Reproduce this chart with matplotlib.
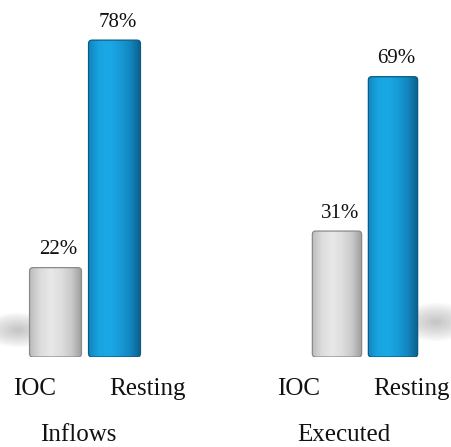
import matplotlib
matplotlib.use("Agg")
import matplotlib.pyplot as plt
import numpy as np
from matplotlib.colors import LinearSegmentedColormap
from matplotlib.patches import FancyBboxPatch, Ellipse

# ---- data ----
groups = ["Inflows", "Executed"]
categories = ["IOC", "Resting"]
inflows = [22, 78]
executed = [31, 69]
values = [inflows, executed]
labels_fmt = "{}%"

plt.rcParams['font.family'] = ['Liberation Serif', 'DejaVu Serif']

W, H = 452, 447
fig = plt.figure(figsize=(W / 100, H / 100), dpi=100)

# soft floor shadows (decoration)
bg = fig.add_axes([0, 0, 1, 1], zorder=0)
bg.set_xlim(0, W)
bg.set_ylim(H, 0)
bg.axis("off")
for (cx, cy, w, h) in [(18, 330, 70, 34), (436, 322, 70, 38)]:
    for k in range(10):
        s = 1 - k / 10
        bg.add_patch(Ellipse((cx, cy), w * s, h * s, facecolor="#808080",
                             edgecolor="none", alpha=0.05))

grey_cmap = LinearSegmentedColormap.from_list(
    "g", ["#bcbcbc", "#dcdcdc", "#e8e8e8", "#dedede", "#cacaca", "#9c9c9c"])
blue_cmap = LinearSegmentedColormap.from_list(
    "b", ["#1186c0", "#19a4e1", "#1aa9e6", "#179bd6", "#1385be", "#0b5f8b"])
cmaps = [grey_cmap, blue_cmap]
edges = ["#8a8a8a", "#0a5a84"]

# axes placement in pixels: (left, width)
axes_px = [(26, 118), (309, 112)]
# label offsets (pixels, from bar centre / group centre)
tick_dx = [[-21, 33], [-38, 18]]
group_dx = [-7, -21]
base_px = 357
ylim_top = 80
height_px = 325
pt = 0.72  # points per pixel at 100 dpi

for gi, (grp, vals) in enumerate(zip(groups, values)):
    left, width = axes_px[gi]
    ax = fig.add_axes([left / W, (H - base_px) / H, width / W, height_px / H], zorder=2)
    ax.set_xlim(-0.5, 1.5)
    ax.set_ylim(0, ylim_top)
    x = np.arange(len(categories))
    bars = ax.bar(x, vals, width=0.88, facecolor="none", edgecolor="none", zorder=3)
    grad = np.linspace(0, 1, 256).reshape(1, -1)
    for bi, b in enumerate(bars):
        x0, y0 = b.get_x(), b.get_y()
        bw, bh = b.get_width(), b.get_height()
        rp = FancyBboxPatch((x0, y0), bw, bh,
                            boxstyle="round,pad=0,rounding_size=0.06",
                            mutation_aspect=ylim_top / 2 * width / height_px,
                            facecolor="none", edgecolor=edges[bi],
                            linewidth=0.9, zorder=4)
        ax.add_patch(rp)
        im = ax.imshow(grad, cmap=cmaps[bi], aspect="auto",
                       extent=[x0, x0 + bw, y0, y0 + bh], zorder=2,
                       interpolation="bicubic")
        im.set_clip_path(rp)
        ax.annotate(labels_fmt.format(vals[bi]), (x0 + bw / 2 + 0.05, y0 + bh),
                    xytext=(0, 6), textcoords="offset points",
                    ha="center", va="bottom", fontsize=15, color="#111111")
        ax.annotate(categories[bi], (x[bi], 0),
                    xytext=(tick_dx[gi][bi] * pt, -32 * pt),
                    textcoords="offset points", ha="center", va="center",
                    fontsize=18, color="#111111")
    ax.annotate(grp, (0.5, 0),
                xytext=(group_dx[gi] * pt, -78 * pt), textcoords="offset points",
                ha="center", va="center", fontsize=18, color="#111111")
    ax.set_xticks([])
    ax.set_yticks([])
    for s in ax.spines.values():
        s.set_visible(False)
    ax.patch.set_alpha(0)

fig.savefig("out.png", dpi=100)
